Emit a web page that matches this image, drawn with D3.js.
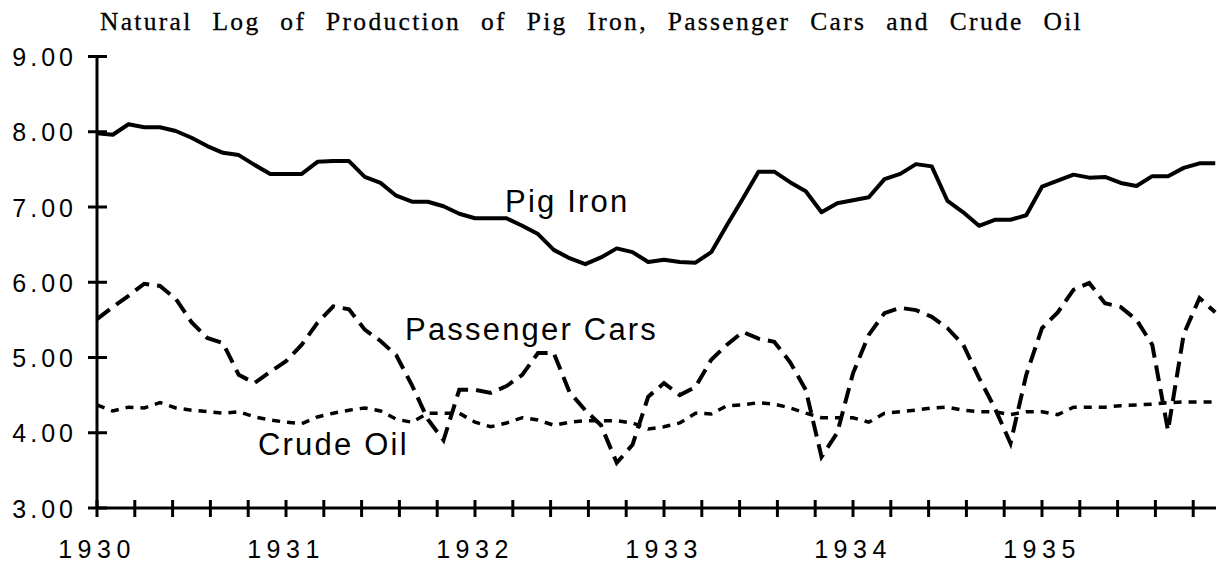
<!DOCTYPE html>
<html>
<head>
<meta charset="utf-8">
<script src="https://cdn.jsdelivr.net/npm/d3@7"></script>
<style>
  html, body { margin: 0; padding: 0; background: #fff; }
  svg { display: block; }
</style>
</head>
<body>
<svg id="chart"></svg>
<script>
// monthly observations, Jan 1930 .. Dec 1935
const pigIron = [
  7.98, 7.96, 8.10, 8.06, 8.06, 8.01, 7.92, 7.81, 7.72, 7.69, 7.56, 7.44,
  7.44, 7.44, 7.60, 7.61, 7.61, 7.40, 7.32, 7.15, 7.07, 7.07, 7.01, 6.91,
  6.85, 6.85, 6.85, 6.75, 6.64, 6.43, 6.32, 6.24, 6.33, 6.45, 6.40, 6.27,
  6.30, 6.27, 6.26, 6.40, 6.76, 7.11, 7.47, 7.47, 7.33, 7.21, 6.93, 7.05,
  7.09, 7.13, 7.37, 7.44, 7.57, 7.54, 7.08, 6.93, 6.75, 6.83, 6.83, 6.89,
  7.27, 7.35, 7.43, 7.39, 7.40, 7.32, 7.28, 7.41, 7.41, 7.52, 7.58, 7.58
];
const passengerCars = [
  5.51, 5.67, 5.82, 5.98, 5.95, 5.78, 5.47, 5.26, 5.19, 4.77, 4.66, 4.81,
  4.95, 5.17, 5.46, 5.68, 5.64, 5.37, 5.22, 5.03, 4.63, 4.18, 3.90, 4.57,
  4.57, 4.53, 4.62, 4.77, 5.06, 5.06, 4.54, 4.30, 4.10, 3.60, 3.84, 4.48,
  4.66, 4.50, 4.61, 4.97, 5.17, 5.34, 5.25, 5.21, 4.94, 4.57, 3.68, 4.00,
  4.79, 5.30, 5.59, 5.66, 5.63, 5.54, 5.39, 5.17, 4.73, 4.33, 3.86, 4.77,
  5.39, 5.60, 5.90, 5.99, 5.72, 5.67, 5.50, 5.17, 4.03, 5.31, 5.79, 5.60
];
const crudeOil = [
  4.37, 4.29, 4.34, 4.33, 4.40, 4.33, 4.30, 4.28, 4.26, 4.28, 4.21, 4.17,
  4.14, 4.12, 4.21, 4.26, 4.30, 4.33, 4.29, 4.18, 4.14, 4.26, 4.26, 4.26,
  4.14, 4.08, 4.13, 4.20, 4.17, 4.10, 4.14, 4.16, 4.16, 4.16, 4.13, 4.05,
  4.08, 4.13, 4.26, 4.25, 4.36, 4.37, 4.40, 4.38, 4.33, 4.26, 4.20, 4.20,
  4.20, 4.14, 4.26, 4.28, 4.30, 4.33, 4.34, 4.30, 4.28, 4.28, 4.24, 4.28,
  4.28, 4.24, 4.34, 4.34, 4.34, 4.36, 4.37, 4.38, 4.40, 4.41, 4.41, 4.41
];
const years = [1930, 1931, 1932, 1933, 1934, 1935];
const yTicks = [3, 4, 5, 6, 7, 8, 9];
const titleText = "Natural Log of Production of Pig Iron, Passenger Cars and Crude Oil";

const width = 1219;
const height = 569;

const svg = d3.select("#chart")
    .attr("width", width)
    .attr("height", height);

const x = d3.scaleLinear()
    .domain([1930, 1936])
    .range([97, 1231]);

const y = d3.scaleLinear()
    .domain([3, 9])
    .range([508, 56.5]);

const monthX = (d, i) => x(1930 + i / 12);

// title, serif with wide word gaps
const title = svg.append("text")
    .attr("x", 100)
    .attr("y", 30)
    .style("font-family", "'Liberation Serif', 'Times New Roman', serif")
    .style("font-size", "25.5px")
    .style("letter-spacing", "2.3px")
    .style("stroke", "#000")
    .style("stroke-width", 0.3)
    .text(titleText);
const natural = title.node().getComputedTextLength();
const gaps = titleText.split(" ").length - 1;
title.style("word-spacing", `${Math.max(0, (983 - natural) / gaps)}px`);

// axes
const axisColor = "#000";
svg.append("line")
    .attr("x1", x(1930)).attr("x2", x(1930))
    .attr("y1", y(9)).attr("y2", y(3))
    .attr("stroke", axisColor).attr("stroke-width", 3);

svg.append("line")
    .attr("x1", x(1930)).attr("x2", 1216)
    .attr("y1", y(3)).attr("y2", y(3))
    .attr("stroke", axisColor).attr("stroke-width", 3);

svg.selectAll("line.ytick")
    .data(yTicks)
    .enter()
    .append("line")
    .attr("class", "ytick")
    .attr("x1", x(1930) - 9).attr("x2", x(1930) + 10)
    .attr("y1", d => y(d)).attr("y2", d => y(d))
    .attr("stroke", axisColor).attr("stroke-width", 3);

svg.selectAll("text.ylab")
    .data(yTicks)
    .enter()
    .append("text")
    .attr("class", "ylab")
    .attr("x", 77)
    .attr("y", d => y(d) + 9.5)
    .attr("text-anchor", "end")
    .style("font-family", "'Liberation Sans', Arial, sans-serif")
    .style("font-size", "25px")
    .style("letter-spacing", "4px")
    .text(d => d3.format(".2f")(d));

const quarterTicks = x.ticks(24).filter(d => d < 1936);
svg.selectAll("line.xtick")
    .data(quarterTicks)
    .enter()
    .append("line")
    .attr("class", "xtick")
    .attr("x1", d => x(d)).attr("x2", d => x(d))
    .attr("y1", y(3) - 8).attr("y2", y(3) + 9)
    .attr("stroke", axisColor).attr("stroke-width", 3);

svg.selectAll("text.xlab")
    .data(years)
    .enter()
    .append("text")
    .attr("class", "xlab")
    .attr("x", d => x(d))
    .attr("y", 558)
    .attr("text-anchor", "middle")
    .style("font-family", "'Liberation Sans', Arial, sans-serif")
    .style("font-size", "25px")
    .style("letter-spacing", "5.5px")
    .text(d => d);

// series
const line = d3.line()
    .x(monthX)
    .y(d => y(d));

svg.append("path")
    .datum(pigIron)
    .attr("d", line)
    .attr("fill", "none")
    .attr("stroke", "#000")
    .attr("stroke-width", 4)
    .attr("stroke-linejoin", "round");

svg.append("path")
    .datum(passengerCars)
    .attr("d", line)
    .attr("fill", "none")
    .attr("stroke", "#000")
    .attr("stroke-width", 4)
    .attr("stroke-dasharray", "16,8");

svg.append("path")
    .datum(crudeOil)
    .attr("d", line)
    .attr("fill", "none")
    .attr("stroke", "#000")
    .attr("stroke-width", 3.5)
    .attr("stroke-dasharray", "8,7");

// series labels
const seriesLabels = [
    { text: "Pig Iron", x: 505, y: 212 },
    { text: "Passenger Cars", x: 405, y: 340 },
    { text: "Crude Oil", x: 258, y: 455 }
];
svg.selectAll("text.series")
    .data(seriesLabels)
    .enter()
    .append("text")
    .attr("class", "series")
    .attr("x", d => d.x)
    .attr("y", d => d.y)
    .style("font-family", "'Liberation Sans', Arial, sans-serif")
    .style("font-size", "31px")
    .style("letter-spacing", "2.2px")
    .text(d => d.text);
</script>
</body>
</html>
